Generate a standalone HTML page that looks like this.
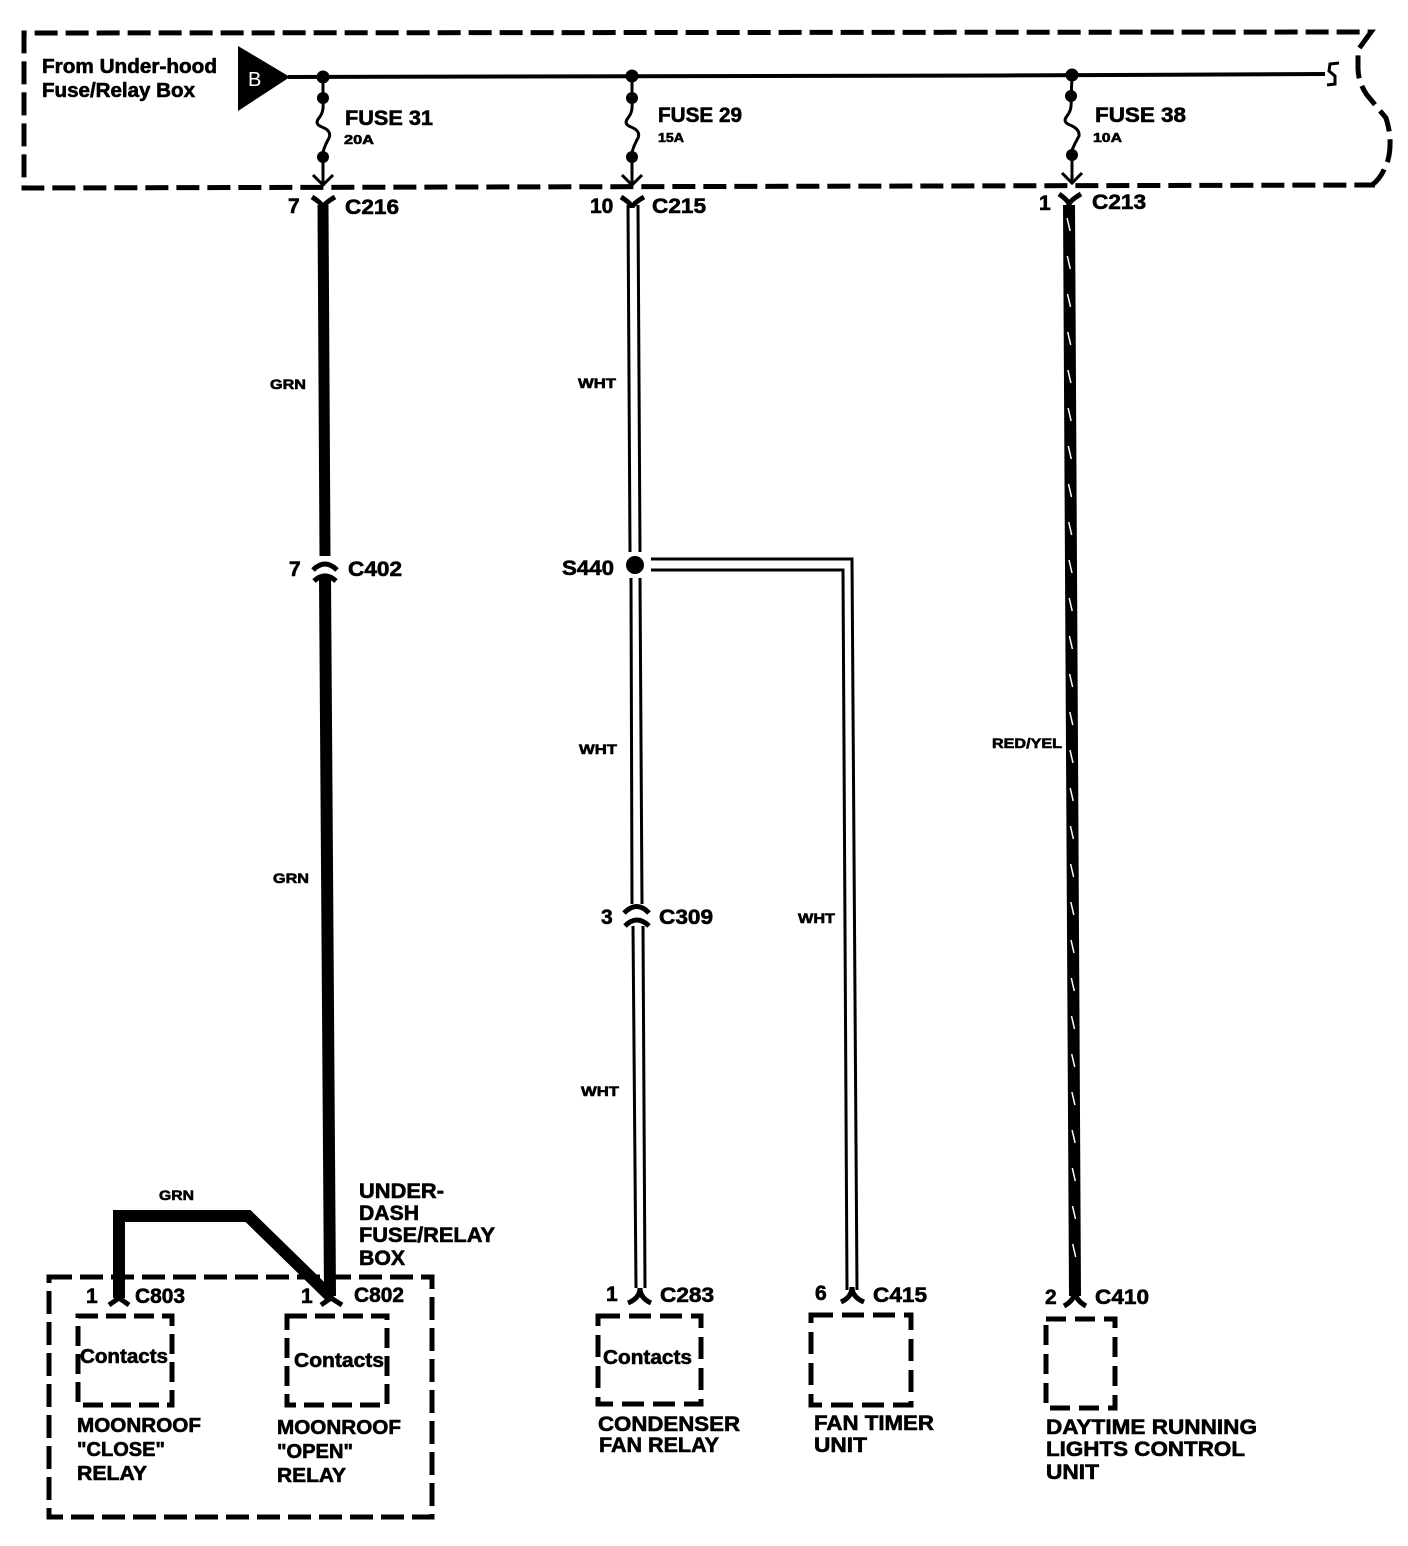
<!DOCTYPE html>
<html>
<head>
<meta charset="utf-8">
<style>
html,body{margin:0;padding:0;background:#fff}
svg{display:block}
text{font-family:"Liberation Sans",sans-serif;font-weight:bold;fill:#000;stroke:#000;stroke-width:.6}
.a{font-size:20px}.c{font-size:21px}.s{font-size:14px}.t{font-size:13px}
.d{fill:none;stroke:#000;stroke-width:5;stroke-dasharray:23 8}
.l{fill:none;stroke:#000;stroke-width:3}
.w{fill:none;stroke:#000;stroke-width:5}
</style>
</head>
<body>
<svg xmlns="http://www.w3.org/2000/svg" width="1408" height="1546" viewBox="0 0 1408 1546">
<rect width="1408" height="1546" fill="#fff"/>

<!-- Top box -->
<path class="d" d="M1375 185 L1372 185 Q1382 178 1388 160 Q1393 140 1386 118 L1367 95 Q1358 82 1358 68 L1358 50 L1371 32 L24 33 L24 188 L1375 185"/>

<!-- Source -->
<polygon points="238,46 238,111 290,77" fill="#000"/>
<text x="248" y="86" font-size="20" style="fill:#fff;stroke:none;font-weight:normal">B</text>
<path class="w" style="stroke-width:4" d="M288 77 L1000 75.500 L1325 74"/>
<path class="w" style="stroke-width:3" d="M1339 63 L1330 64 L1329 71 L1335 76 L1335 84 L1327 85"/>

<!-- Fuses -->
<g fill="#000">
<circle cx="323" cy="77" r="6.500"/><circle cx="632" cy="76" r="6.500"/><circle cx="1072" cy="75" r="6.500"/>
<circle cx="323" cy="98" r="6"/><circle cx="323" cy="157" r="6"/>
<circle cx="632" cy="98" r="6"/><circle cx="632" cy="157" r="6"/>
<circle cx="1071" cy="96" r="6"/><circle cx="1072" cy="155" r="6"/>
</g>
<g>
<path class="l" d="M323 78 L323 103 Q324 112 319 118 Q314 124 322 127 Q332 131 329 138 Q325 145 323 152 L323 186"/>
<path class="l" d="M313 175 L323 185 L333 175"/>
<path class="l" d="M632 78 L632 103 Q633 112 628 118 Q623 124 631 127 Q641 131 638 138 Q634 145 632 152 L632 186"/>
<path class="l" d="M622 175 L632 185 L642 175"/>
<path class="l" d="M1072 76 L1071 101 Q1072 110 1067 116 Q1062 122 1070 125 Q1080 129 1079 136 Q1075 143 1072 150 L1072 184"/>
<path class="l" d="M1062 173 L1072 183 L1082 173"/>
</g>

<!-- Top connector Y shapes -->
<path class="w" d="M312 197 Q323 204 323 208 Q323 204 335 197"/>
<path class="w" d="M621 197 Q632 204 632 208 Q632 204 644 197"/>
<path class="w" d="M1059 194 Q1069 201 1069 205 Q1069 201 1081 194"/>

<!-- GRN wire -->
<path d="M323 205 L325 556" fill="none" stroke="#000" stroke-width="11"/>
<path class="w" d="M313 570 Q325 558 337 570"/>
<path class="w" d="M314 581 Q325 571 336 581"/>
<path d="M325 578 L330 1296" fill="none" stroke="#000" stroke-width="12"/>
<path d="M119 1298 L119 1216 L248 1216 L332 1298" fill="none" stroke="#000" stroke-width="12"/>
<path class="w" d="M109 1305 L119 1298 L129 1305"/>
<path class="w" d="M321 1305 L331 1298 L342 1305"/>

<!-- WHT wire -->
<g>
<path class="l" d="M628 205 L630 552"/><path class="l" d="M638 205 L640 552"/>
<path class="l" d="M631 578 L632 904"/><path class="l" d="M640 578 L642 904"/>
<path class="l" d="M633 926 L636 1288"/><path class="l" d="M643 926 L645 1288"/>
<path class="l" d="M651 559 L852 559 L857 1290"/>
<path class="l" d="M651 570 L843 570 L847 1290"/>
</g>
<circle cx="635" cy="565" r="9" fill="#000"/>
<path class="w" d="M624 913 Q637 900 649 913"/>
<path class="w" d="M625 926 Q637 914 649 926"/>
<path class="w" d="M628 1303 Q640 1298 640 1288 Q640 1298 651 1303"/>
<path class="w" d="M841 1302 Q852 1297 852 1287 Q852 1297 864 1302"/>
<path class="w" d="M1064 1306 Q1075 1300 1075 1290 Q1075 1300 1086 1306"/>

<!-- RED/YEL wire -->
<path d="M1069 205 L1075 1296" fill="none" stroke="#000" stroke-width="12"/>
<path fill="none" stroke="#fff" stroke-width="1.500" d="M1067.100 218l3 13M1067.300 256l3 13M1067.500 294l3 13M1067.700 332l3 13M1067.900 370l3 13M1068.100 408l3 13M1068.300 446l3 13M1068.500 484l3 13M1068.700 522l3 13M1069 560l3 13M1069.200 598l3 13M1069.400 636l3 13M1069.600 674l3 13M1069.800 712l3 13M1070 750l3 13M1070.200 788l3 13M1070.400 826l3 13M1070.600 864l3 13M1070.800 902l3 13M1071 940l3 13M1071.300 978l3 13M1071.500 1016l3 13M1071.700 1054l3 13M1071.900 1092l3 13M1072.100 1130l3 13M1072.300 1168l3 13M1072.500 1206l3 13M1072.700 1244l3 13"/>

<!-- Boxes -->
<rect class="d" x="49" y="1277" width="383" height="240"/>
<rect class="d" x="78" y="1316" width="94" height="89" style="stroke-dasharray:20 8"/>
<rect class="d" x="287" y="1316" width="100" height="89" style="stroke-dasharray:20 8"/>
<rect class="d" x="598" y="1316" width="103" height="88" style="stroke-dasharray:22 9"/>
<rect class="d" x="811" y="1315" width="100" height="90" style="stroke-dasharray:22 9"/>
<rect class="d" x="1046" y="1319" width="69" height="89" style="stroke-dasharray:20 9"/>

<!-- Labels -->
<text class="a" x="42" y="73" textLength="175" lengthAdjust="spacingAndGlyphs">From Under-hood</text>
<text class="a" x="42" y="97" textLength="153" lengthAdjust="spacingAndGlyphs">Fuse/Relay Box</text>
<text class="c" x="345" y="125" textLength="88" lengthAdjust="spacingAndGlyphs">FUSE 31</text>
<text class="t" x="344" y="144" textLength="30" lengthAdjust="spacingAndGlyphs">20A</text>
<text class="c" x="658" y="122" textLength="84" lengthAdjust="spacingAndGlyphs">FUSE 29</text>
<text class="t" x="658" y="142" textLength="26" lengthAdjust="spacingAndGlyphs">15A</text>
<text class="c" x="1095" y="122" textLength="91" lengthAdjust="spacingAndGlyphs">FUSE 38</text>
<text class="t" x="1093" y="142" textLength="29" lengthAdjust="spacingAndGlyphs">10A</text>

<text class="c" x="288" y="213">7</text>
<text class="c" x="345" y="214" textLength="54" lengthAdjust="spacingAndGlyphs">C216</text>
<text class="c" x="590" y="213">10</text>
<text class="c" x="652" y="213" textLength="54" lengthAdjust="spacingAndGlyphs">C215</text>
<text class="c" x="1039" y="210">1</text>
<text class="c" x="1092" y="209" textLength="54" lengthAdjust="spacingAndGlyphs">C213</text>

<text class="s" x="270" y="389" textLength="36" lengthAdjust="spacingAndGlyphs">GRN</text>
<text class="s" x="578" y="388" textLength="38" lengthAdjust="spacingAndGlyphs">WHT</text>
<text class="c" x="289" y="576">7</text>
<text class="c" x="348" y="576" textLength="54" lengthAdjust="spacingAndGlyphs">C402</text>
<text class="c" x="562" y="575" textLength="52" lengthAdjust="spacingAndGlyphs">S440</text>
<text class="s" x="579" y="754" textLength="38" lengthAdjust="spacingAndGlyphs">WHT</text>
<text class="s" x="992" y="748" textLength="70" lengthAdjust="spacingAndGlyphs">RED/YEL</text>
<text class="s" x="273" y="883" textLength="36" lengthAdjust="spacingAndGlyphs">GRN</text>
<text class="s" x="798" y="923" textLength="37" lengthAdjust="spacingAndGlyphs">WHT</text>
<text class="c" x="601" y="924">3</text>
<text class="c" x="659" y="924" textLength="54" lengthAdjust="spacingAndGlyphs">C309</text>
<text class="s" x="581" y="1096" textLength="38" lengthAdjust="spacingAndGlyphs">WHT</text>
<text class="s" x="159" y="1200" textLength="35" lengthAdjust="spacingAndGlyphs">GRN</text>

<text class="c" x="359" y="1198" textLength="85" lengthAdjust="spacingAndGlyphs">UNDER-</text>
<text class="c" x="359" y="1220" textLength="60" lengthAdjust="spacingAndGlyphs">DASH</text>
<text class="c" x="359" y="1242" textLength="136" lengthAdjust="spacingAndGlyphs">FUSE/RELAY</text>
<text class="c" x="359" y="1265" textLength="46" lengthAdjust="spacingAndGlyphs">BOX</text>

<text class="c" x="86" y="1303">1</text>
<text class="c" x="135" y="1303" textLength="50" lengthAdjust="spacingAndGlyphs">C803</text>
<text class="c" x="301" y="1303">1</text>
<text class="c" x="354" y="1302" textLength="50" lengthAdjust="spacingAndGlyphs">C802</text>
<text class="a" x="80" y="1363" textLength="88" lengthAdjust="spacingAndGlyphs">Contacts</text>
<text class="a" x="294" y="1367" textLength="90" lengthAdjust="spacingAndGlyphs">Contacts</text>
<text class="a" x="603" y="1364" textLength="89" lengthAdjust="spacingAndGlyphs">Contacts</text>

<text class="a" x="77" y="1432" textLength="124" lengthAdjust="spacingAndGlyphs">MOONROOF</text>
<text class="a" x="77" y="1456" textLength="88" lengthAdjust="spacingAndGlyphs">"CLOSE"</text>
<text class="a" x="77" y="1480" textLength="70" lengthAdjust="spacingAndGlyphs">RELAY</text>
<text class="a" x="277" y="1434" textLength="124" lengthAdjust="spacingAndGlyphs">MOONROOF</text>
<text class="a" x="277" y="1458" textLength="76" lengthAdjust="spacingAndGlyphs">"OPEN"</text>
<text class="a" x="277" y="1482" textLength="69" lengthAdjust="spacingAndGlyphs">RELAY</text>

<text class="c" x="606" y="1301">1</text>
<text class="c" x="660" y="1302" textLength="54" lengthAdjust="spacingAndGlyphs">C283</text>
<text class="c" x="815" y="1300">6</text>
<text class="c" x="873" y="1302" textLength="54" lengthAdjust="spacingAndGlyphs">C415</text>
<text class="c" x="1045" y="1304">2</text>
<text class="c" x="1095" y="1304" textLength="54" lengthAdjust="spacingAndGlyphs">C410</text>

<text class="c" x="598" y="1431" textLength="142" lengthAdjust="spacingAndGlyphs">CONDENSER</text>
<text class="c" x="599" y="1452" textLength="120" lengthAdjust="spacingAndGlyphs">FAN RELAY</text>
<text class="c" x="814" y="1430" textLength="120" lengthAdjust="spacingAndGlyphs">FAN TIMER</text>
<text class="c" x="814" y="1452" textLength="53" lengthAdjust="spacingAndGlyphs">UNIT</text>
<text class="c" x="1046" y="1434" textLength="211" lengthAdjust="spacingAndGlyphs">DAYTIME RUNNING</text>
<text class="c" x="1046" y="1456" textLength="199" lengthAdjust="spacingAndGlyphs">LIGHTS CONTROL</text>
<text class="c" x="1046" y="1479" textLength="53" lengthAdjust="spacingAndGlyphs">UNIT</text>
</svg>
</body>
</html>
